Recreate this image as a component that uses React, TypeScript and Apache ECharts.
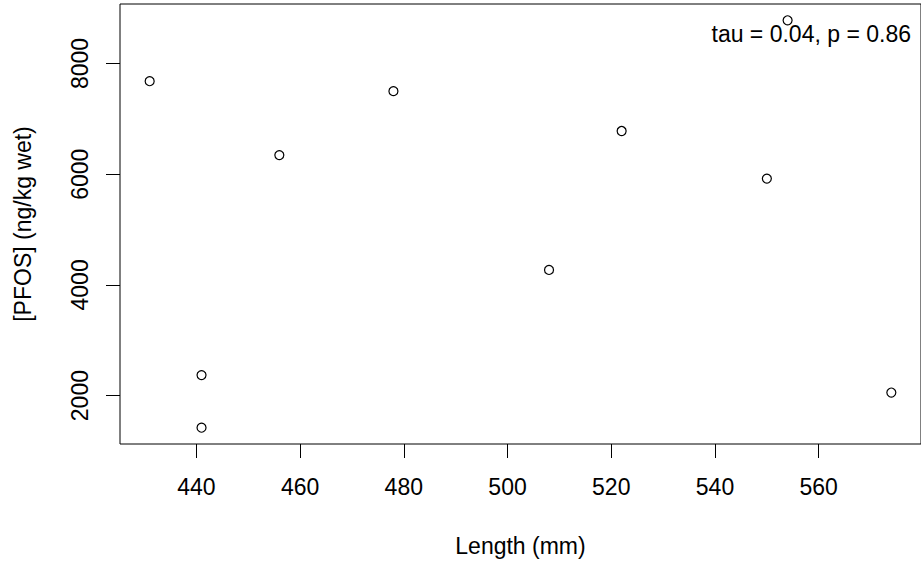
import React, { useEffect, useRef } from "react";
import * as echarts from "echarts";

const lengths: number[] = [431, 441, 441, 456, 478, 508, 522, 550, 554, 574];
const pfos: number[] = [7680, 2370, 1420, 6345, 7500, 4270, 6780, 5920, 8780, 2055];
const xTicks: number[] = [440, 460, 480, 500, 520, 540, 560];
const yTicks: number[] = [2000, 4000, 6000, 8000];
const annotation = "tau = 0.04, p = 0.86";
const xTitle = "Length (mm)";
const yTitle = "[PFOS] (ng/kg wet)";

function rLim(v: number[]): [number, number] {
  const lo = Math.min(...v);
  const hi = Math.max(...v);
  const r = hi - lo;
  return [lo - 0.04 * r, hi + 0.04 * r];
}

const FONT = "'Liberation Sans', Arial, sans-serif";
const FS = 23;

export default function App() {
  const ref = useRef<HTMLDivElement>(null);
  useEffect(() => {
    if (!ref.current) return;
    const chart = echarts.init(ref.current, undefined, { renderer: "svg" });
    const [xmin, xmax] = rLim(lengths);
    const [ymin, ymax] = rLim(pfos);
    chart.setOption({
      animation: false,
      backgroundColor: "#ffffff",
      grid: {
        left: 120,
        top: 4,
        width: 802,
        height: 440,
        show: true,
        borderColor: "#000",
        borderWidth: 1,
        backgroundColor: "transparent",
      },
      xAxis: {
        type: "value",
        min: xmin,
        max: xmax,
        axisLine: { show: false },
        splitLine: { show: false },
        axisTick: {
          show: true,
          length: 14,
          customValues: xTicks,
          lineStyle: { color: "#000", width: 1 },
        },
        axisLabel: {
          customValues: xTicks,
          formatter: (v: number) => String(v),
          margin: 31,
          fontSize: FS,
          fontFamily: FONT,
          color: "#000",
        },
        name: xTitle,
        nameLocation: "middle",
        nameGap: 90,
        nameTextStyle: { fontSize: FS, fontFamily: FONT, color: "#000" },
      },
      yAxis: {
        type: "value",
        min: ymin,
        max: ymax,
        axisLine: { show: false },
        splitLine: { show: false },
        axisTick: {
          show: true,
          length: 14,
          customValues: yTicks,
          lineStyle: { color: "#000", width: 1 },
        },
        axisLabel: {
          customValues: yTicks,
          formatter: (v: number) => String(v),
          rotate: 90,
          margin: 29,
          fontSize: FS,
          fontFamily: FONT,
          color: "#000",
        },
        name: yTitle,
        nameLocation: "middle",
        nameGap: 86,
        nameTextStyle: { fontSize: FS, fontFamily: FONT, color: "#000" },
      },
      series: [
        {
          type: "scatter",
          data: lengths.map((x, i) => [x, pfos[i]]),
          symbol: "circle",
          symbolSize: 9,
          itemStyle: {
            color: "rgba(0,0,0,0)",
            borderColor: "#000",
            borderWidth: 1.2,
            opacity: 1,
          },
          emphasis: { disabled: true },
        },
      ],
      graphic: [
        {
          type: "text",
          x: 911,
          y: 34,
          style: {
            text: annotation,
            align: "right",
            verticalAlign: "middle",
            fontSize: FS,
            fontFamily: FONT,
            fill: "#000",
          },
        },
      ],
    });
    return () => chart.dispose();
  }, []);
  return (
    <div
      ref={ref}
      style={{ position: "fixed", left: 0, top: 0, width: 921, height: 564 }}
    />
  );
}
